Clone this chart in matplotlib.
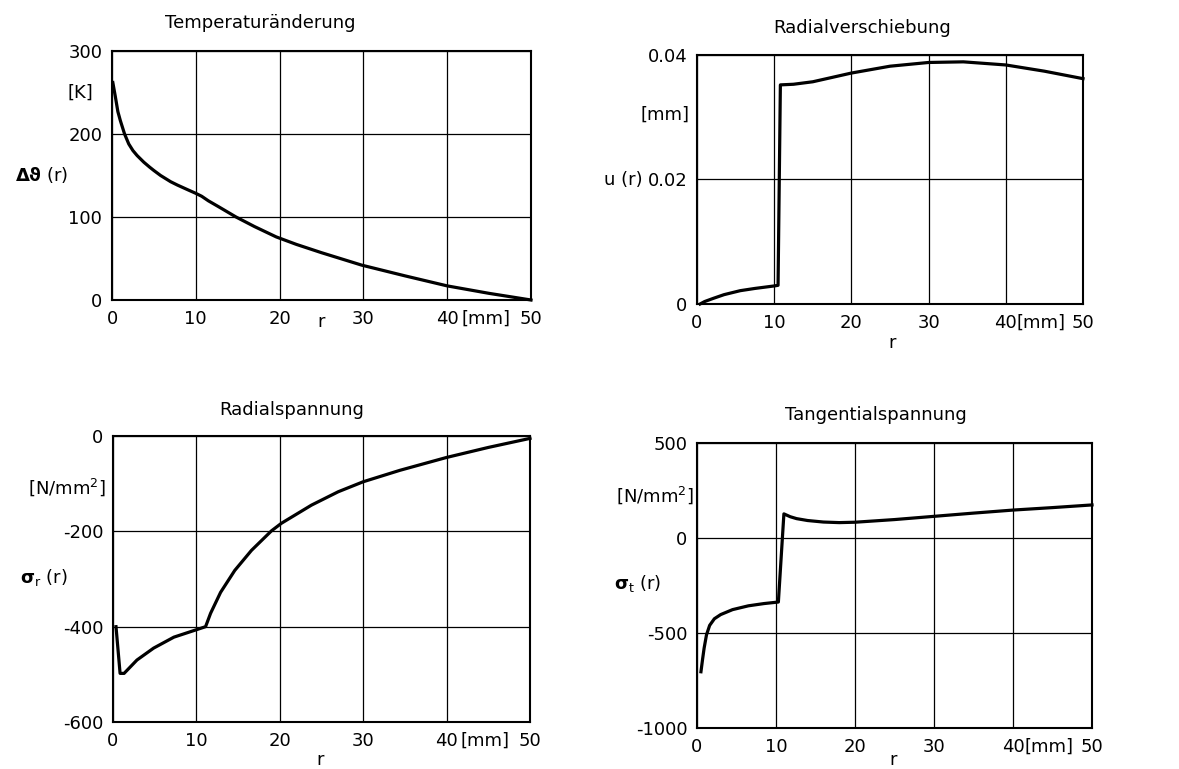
import matplotlib
matplotlib.use("Agg")
import matplotlib.pyplot as plt

W, H = 1179, 769

# ---------------- data ----------------
r_temp = [0.1, 0.4, 0.7, 1.0, 1.5, 2.0, 2.5, 3.0, 3.8, 4.5, 5.0, 5.8, 7.0, 7.8, 9.0, 10.0, 10.7,
          11.5, 12.7, 14.8, 17.0, 19.6, 22.0, 25.0, 29.8, 35.0, 40.0, 45.0, 50.0]
temp = [262, 245, 227, 216, 200, 188, 180, 174, 166, 160, 156, 150, 142.5, 138.5, 133, 128.5, 125,
        119.5, 112.5, 100, 88.5, 76, 67, 57, 42, 29, 17, 8, 0]

r_u = [0.4, 1.0, 2.1, 3.5, 5.6, 7.5, 10.0, 10.5, 10.8, 12.5, 15, 17.5, 20, 25, 30, 34.5, 40, 45, 50]
u = [0.0, 0.0004, 0.0009, 0.0015, 0.00214, 0.0025, 0.0029, 0.0030, 0.0352, 0.0353, 0.0357, 0.0364,
     0.0371, 0.0382, 0.0388, 0.0389, 0.0384, 0.0374, 0.0362]

r_sr = [0.36, 0.85, 1.33, 2.87, 4.87, 7.3, 9.9, 11.1, 11.7, 12.9, 14.6, 16.6, 19.0, 20.2, 23.8,
        27.0, 30.0, 34.4, 40.0, 45.0, 50.0]
sigma_r = [-400, -498, -498, -470, -445, -422, -407, -400, -372, -328, -282, -240, -199, -183, -145,
           -117, -96, -72, -45, -24, -5]

r_st = [0.5, 0.7, 0.9, 1.2, 1.6, 2.2, 3.0, 4.5, 6.5, 8.5, 10.3, 11.0, 11.8, 12.6, 14.0, 16.0, 18.0,
        20.0, 25.0, 30.0, 35.0, 40.0, 45.0, 50.0]
sigma_t = [-704, -640, -580, -510, -460, -425, -403, -377, -357, -345, -337, 127, 112, 102, 92, 84, 81,
           83, 97, 114, 131, 147, 160, 174]

x_ticks = [0, 10, 20, 30, 40, 50]
x_ticklabels = ["0", "10", "20", "30", "40", "50"]

titles = ["Temperaturänderung", "Radialverschiebung", "Radialspannung", "Tangentialspannung"]

# ---------------- figure ----------------
plt.rcParams['font.family'] = ['DejaVu Sans']
plt.rcParams['mathtext.fontset'] = 'dejavusans'
fig = plt.figure(figsize=(W / 100, H / 100), dpi=100)
fig.patch.set_facecolor('white')


def box(l, t, r, b):
    return [l / W, 1 - b / H, (r - l) / W, (b - t) / H]


def P(x, y):
    return x / W, 1 - y / H


FS = 13


def style(ax, yticks, yticklabels, ylim):
    ax.set_xlim(0, 50)
    ax.set_ylim(*ylim)
    ax.set_xticks(x_ticks)
    ax.set_xticklabels(x_ticklabels)
    ax.set_yticks(yticks)
    ax.set_yticklabels(yticklabels)
    ax.tick_params(length=0, pad=7, labelsize=FS)
    ax.grid(True, color='black', lw=0.9)
    ax.set_axisbelow(True)
    for s in ax.spines.values():
        s.set_linewidth(1.5)
    ax.annotate("[mm]", xy=(44.6, 0), xycoords=ax.get_xaxis_transform(),
                xytext=(0, -7), textcoords='offset points', ha='center', va='top', fontsize=FS)


LW = 2.3

# Top-left
ax1 = fig.add_axes(box(112, 51, 531, 300))
style(ax1, [0, 100, 200, 300], ["0", "100", "200", "300"], (0, 300))
ax1.plot(r_temp, temp, color='black', lw=LW, clip_on=False, solid_joinstyle='round')

# Top-right
ax2 = fig.add_axes(box(697, 55, 1083, 304))
style(ax2, [0, 0.02, 0.04], ["0", "0.02", "0.04"], (0, 0.04))
ax2.plot(r_u, u, color='black', lw=LW, clip_on=False, solid_joinstyle='round')

# Bottom-left
ax3 = fig.add_axes(box(113, 436, 530, 722))
style(ax3, [-600, -400, -200, 0], ["-600", "-400", "-200", "0"], (-600, 0))
ax3.plot(r_sr, sigma_r, color='black', lw=LW, clip_on=False, solid_joinstyle='round')

# Bottom-right
ax4 = fig.add_axes(box(697, 443, 1092, 728))
style(ax4, [-1000, -500, 0, 500], ["-1000", "-500", "0", "500"], (-1000, 500))
ax4.plot(r_st, sigma_t, color='black', lw=LW, clip_on=False, solid_joinstyle='round')

# Titles
fig.text(*P(260, 23), titles[0], ha='center', va='center', fontsize=FS)
fig.text(*P(862, 28), titles[1], ha='center', va='center', fontsize=FS)
fig.text(*P(292, 410), titles[2], ha='center', va='center', fontsize=FS)
fig.text(*P(876, 415), titles[3], ha='center', va='center', fontsize=FS)

# x labels "r"
for (x, y) in [(321, 322), (892, 343), (320, 760), (893, 760)]:
    fig.text(*P(x, y), "r", ha='center', va='center', fontsize=FS)

# y units & labels
fig.text(*P(80, 93), "[K]", ha='center', va='center', fontsize=FS)
fig.text(*P(68, 175), r"$\mathbf{\Delta\vartheta}$ (r)", ha='right', va='center', fontsize=FS)

fig.text(*P(665, 115), "[mm]", ha='center', va='center', fontsize=FS)
fig.text(*P(643, 180), "u (r)", ha='right', va='center', fontsize=FS)

fig.text(*P(67, 487), r"[N/mm$^2$]", ha='center', va='center', fontsize=FS)
fig.text(*P(67, 577), r"$\mathbf{\sigma}_{\mathrm{r}}$ (r)", ha='right', va='center', fontsize=FS)

fig.text(*P(655, 495), r"[N/mm$^2$]", ha='center', va='center', fontsize=FS)
fig.text(*P(661, 583), r"$\mathbf{\sigma}_{\mathrm{t}}$ (r)", ha='right', va='center', fontsize=FS)

fig.savefig("out.png", dpi=100, facecolor='white')
